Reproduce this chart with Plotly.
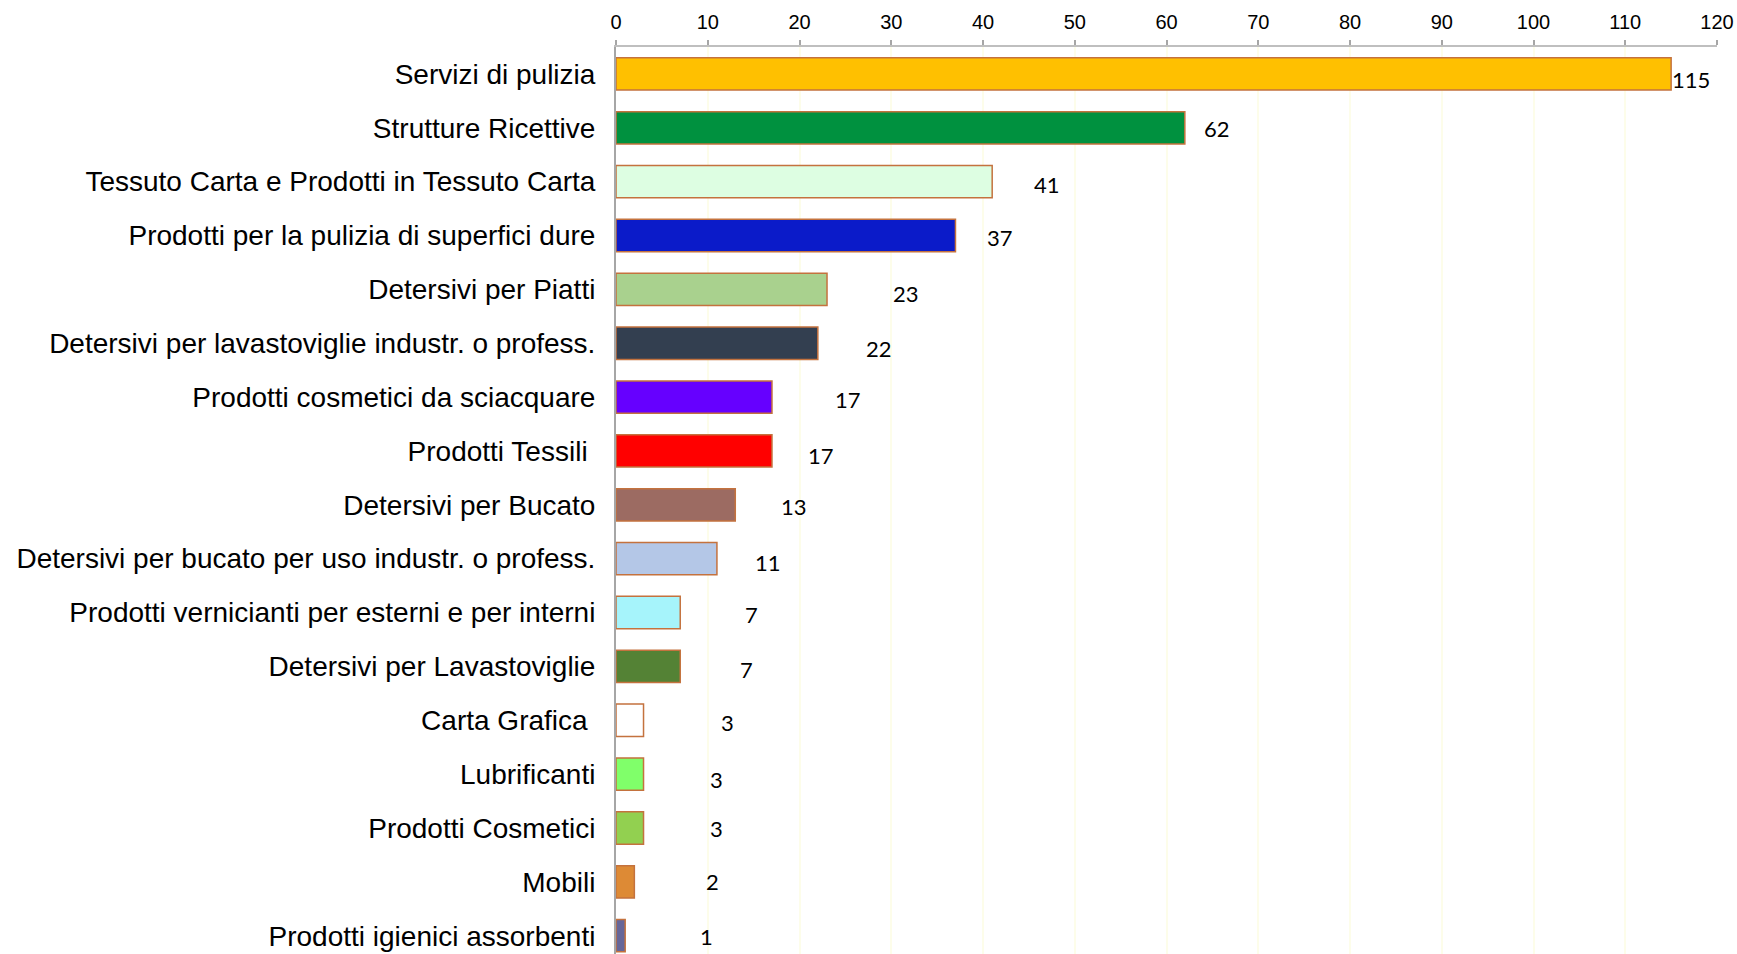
import plotly.graph_objects as go

categories = [
    "Servizi di pulizia",
    "Strutture Ricettive",
    "Tessuto Carta e Prodotti in Tessuto Carta",
    "Prodotti per la pulizia di superfici dure",
    "Detersivi per Piatti",
    "Detersivi per lavastoviglie industr. o profess.",
    "Prodotti cosmetici da sciacquare",
    "Prodotti Tessili\u00a0",
    "Detersivi per Bucato",
    "Detersivi per bucato per uso industr. o profess.",
    "Prodotti vernicianti per esterni e per interni",
    "Detersivi per Lavastoviglie",
    "Carta Grafica\u00a0",
    "Lubrificanti",
    "Prodotti Cosmetici",
    "Mobili",
    "Prodotti igienici assorbenti",
]
values = [115, 62, 41, 37, 23, 22, 17, 17, 13, 11, 7, 7, 3, 3, 3, 2, 1]
x_ticks = [0, 10, 20, 30, 40, 50, 60, 70, 80, 90, 100, 110, 120]

# styles
bar_colors = [
    "#FFC000", "#00913F", "#DDFEE2", "#0B1BC9", "#A9D18E", "#333F50",
    "#6600FF", "#FF0000", "#9C6B62", "#B4C7E7", "#A6F4FB", "#548235",
    "#FFFFFF", "#80FF6A", "#92D050", "#DD8A35", "#666699",
]
# label offsets (pixels) of the data labels from the bar end / centre
label_dx = [20, 32, 55, 45, 79, 61, 76, 49, 59, 51, 71, 66, 84, 73, 73, 78, 81]
label_dy = [6, 1, 3, 2, 4, 5, 2, 5, 2, 4, 2, 3, 2, 5, 1, 0, 1]

fig = go.Figure()
fig.add_trace(go.Bar(
    x=values,
    y=categories,
    orientation="h",
    marker=dict(color=bar_colors, line=dict(color="#C4723E", width=1.5)),
    hoverinfo="x+y",
))

for cat, v, dx, dy in zip(categories, values, label_dx, label_dy):
    fig.add_annotation(
        x=v, y=cat, text=str(v), showarrow=False,
        xanchor="center", yanchor="middle",
        xshift=dx, yshift=-dy,
        font=dict(family="Lato, Carlito, sans-serif", size=22, color="#000000"),
    )

fig.update_layout(
    width=1737, height=954,
    margin=dict(l=616, r=20, t=47, b=0, pad=0),
    paper_bgcolor="white", plot_bgcolor="white",
    bargap=0.4,
    showlegend=False,
    font=dict(family="Arial, Liberation Sans, sans-serif", color="#000000"),
)
fig.update_xaxes(
    side="top", range=[0, 120], tickvals=x_ticks,
    ticks="outside", ticklen=5, tickwidth=1.5, tickcolor="#A6A6A6",
    showline=True, linecolor="#BFBFBF", linewidth=1.5,
    showgrid=True, gridcolor="#FDFDEA", gridwidth=1.5,
    zeroline=False, ticklabelstandoff=3,
    tickfont=dict(size=20, family="Arial, Liberation Sans, sans-serif", color="#000000"),
)
fig.update_yaxes(
    type="category", range=[16.34, -0.5],
    showline=True, linecolor="#A6A6A6", linewidth=2,
    showgrid=False, ticks="", ticklabelstandoff=13,
    tickfont=dict(size=28, family="Arial, Liberation Sans, sans-serif", color="#000000"),
)

fig.write_html(
    "out.html",
    config={"displayModeBar": False},
    post_script="document.body.style.margin='0';document.body.style.overflow='hidden';",
)
